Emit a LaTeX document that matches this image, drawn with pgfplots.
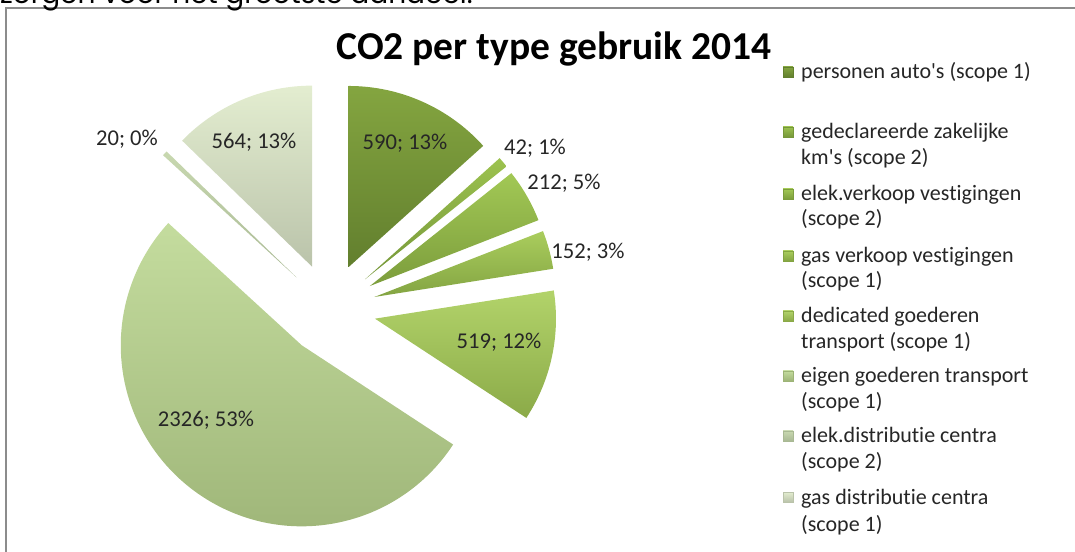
\documentclass[border=0pt]{standalone}
\usepackage{fontspec}
\setmainfont{Carlito}[Ligatures={TeXOff,NoCommon}]
\newfontfamily\topfont{Poppins}
\usepackage{pgfplots}
\pgfplotsset{compat=1.18}
\usepackage{pgfplotstable}

\definecolor{sA1}{HTML}{84A540}\definecolor{sB1}{HTML}{627F2E}
\definecolor{sA2}{HTML}{9CC24F}\definecolor{sB2}{HTML}{76973A}
\definecolor{sA3}{HTML}{A2C855}\definecolor{sB3}{HTML}{7C9D3C}
\definecolor{sA4}{HTML}{AACD5D}\definecolor{sB4}{HTML}{83A442}
\definecolor{sA5}{HTML}{B2D36A}\definecolor{sB5}{HTML}{8BAA48}
\definecolor{sA6}{HTML}{C4DC9E}\definecolor{sB6}{HTML}{9DB477}
\definecolor{sA7}{HTML}{C8D8B0}\definecolor{sB7}{HTML}{A9B994}
\definecolor{sA8}{HTML}{E3EDD0}\definecolor{sB8}{HTML}{BAC3AA}
\definecolor{txt}{HTML}{262626}
\definecolor{frame}{HTML}{8C8C8C}

\pgfplotstableread{
idx value
1 590
2 42
3 212
4 152
5 519
6 2326
7 20
8 564
}\piedata

% pie geometry (in pt, 1 axis unit = 1pt)
\def\cx{330}\def\cy{242}\def\rad{181}\def\expl{46}

\xdef\total{0}
\pgfplotstableforeachcolumnelement{value}\of\piedata\as\v{%
  \pgfmathsetmacro\tmp{\total+\v}\xdef\total{\tmp}}
\xdef\cum{0}
\pgfplotstableforeachcolumnelement{value}\of\piedata\as\v{%
  \pgfmathsetmacro\aS{90-360*(\cum/\total)}%
  \pgfmathsetmacro\newcum{\cum+\v}%
  \pgfmathsetmacro\aE{90-360*(\newcum/\total)}%
  \pgfmathsetmacro\aM{(\aS+\aE)/2}%
  \pgfmathsetmacro\tx{\cx+\expl*cos(\aM)}%
  \pgfmathsetmacro\ty{\cy+\expl*sin(\aM)}%
  \pgfmathsetmacro\sx{\tx+\rad*cos(\aS)}%
  \pgfmathsetmacro\sy{\ty+\rad*sin(\aS)}%
  \pgfmathtruncatemacro\k{\pgfplotstablerow+1}%
  \expandafter\xdef\csname aS\k\endcsname{\aS}%
  \expandafter\xdef\csname aE\k\endcsname{\aE}%
  \expandafter\xdef\csname tx\k\endcsname{\tx}%
  \expandafter\xdef\csname ty\k\endcsname{\ty}%
  \expandafter\xdef\csname sx\k\endcsname{\sx}%
  \expandafter\xdef\csname sy\k\endcsname{\sy}%
  \xdef\cum{\newcum}}

\newcommand\lab[3]{\node[anchor=base,text=txt,font=\fontsize{22.6}{26}\selectfont] at (axis cs:#1,{551-#2-7}) {#3};}
\newcommand\legline[3]{\node[anchor=base west,text=txt,inner sep=0pt,font=\fontsize{22}{26}\selectfont] at (axis cs:#1,{551-#2-6}) {#3};}
\newcommand\legbox[2]{\shade[top color=sA#2,bottom color=sB#2,draw=sB#2,line width=0.5pt] (axis cs:783,{551-#1-4}) rectangle (axis cs:793,{551-#1+6});}

\begin{document}
\begin{tikzpicture}
\begin{axis}[name=ax,
  width=1075pt,height=551pt,scale only axis,
  xmin=0,xmax=1075,ymin=0,ymax=551,
  hide axis,clip=false]
  % slices
  \pgfplotsinvokeforeach{1,...,8}{%
    \shade[top color=sA#1,bottom color=sB#1]
      (axis cs:\csname tx#1\endcsname,\csname ty#1\endcsname)
      -- (axis cs:\csname sx#1\endcsname,\csname sy#1\endcsname)
      arc[start angle=\csname aS#1\endcsname,end angle=\csname aE#1\endcsname,radius=\rad pt]
      -- cycle;
  }
  % data labels
  \lab{405}{143}{590; 13\%}
  \lab{535}{148}{42; 1\%}
  \lab{564}{183}{212; 5\%}
  \lab{588}{252}{152; 3\%}
  \lab{499}{342}{519; 12\%}
  \lab{206}{420}{2326; 53\%}
  \lab{127}{139}{20; 0\%}
  \lab{254}{142}{564; 13\%}
  % title
  \node[anchor=base,font=\fontsize{39.5}{45}\selectfont\bfseries] at (axis cs:554,491) {CO2 per type gebruik 2014};
  % legend
  \legbox{73}{1}\legline{801}{73}{personen auto's (scope 1)}
  \legbox{133}{2}\legline{801}{133}{gedeclareerde zakelijke}\legline{801}{158.5}{km's (scope 2)}
  \legbox{195}{3}\legline{801}{195}{elek.verkoop vestigingen}\legline{801}{220}{(scope 2)}
  \legbox{257}{4}\legline{801}{257}{gas verkoop vestigingen}\legline{801}{282}{(scope 1)}
  \legbox{317}{5}\legline{801}{317}{dedicated goederen}\legline{801}{343}{transport (scope 1)}
  \legbox{377}{6}\legline{801}{377}{eigen goederen transport}\legline{801}{403}{(scope 1)}
  \legbox{437}{7}\legline{801}{437}{elek.distributie centra}\legline{801}{463}{(scope 2)}
  \legbox{498}{8}\legline{801}{498}{gas distributie centra}\legline{801}{525}{(scope 1)}
  % frame
  \draw[frame,line width=2pt] (axis cs:6,-5) -- (axis cs:6,543) -- (axis cs:1090,543);
\end{axis}
\node[anchor=base west,inner sep=0pt,font=\topfont\fontsize{28}{32}\selectfont] at (0pt,547pt) {zorgen voor het grootste aandeel.};
\pgfresetboundingbox
\path[use as bounding box] (ax.south west) rectangle (ax.north east);
\end{tikzpicture}
\end{document}
